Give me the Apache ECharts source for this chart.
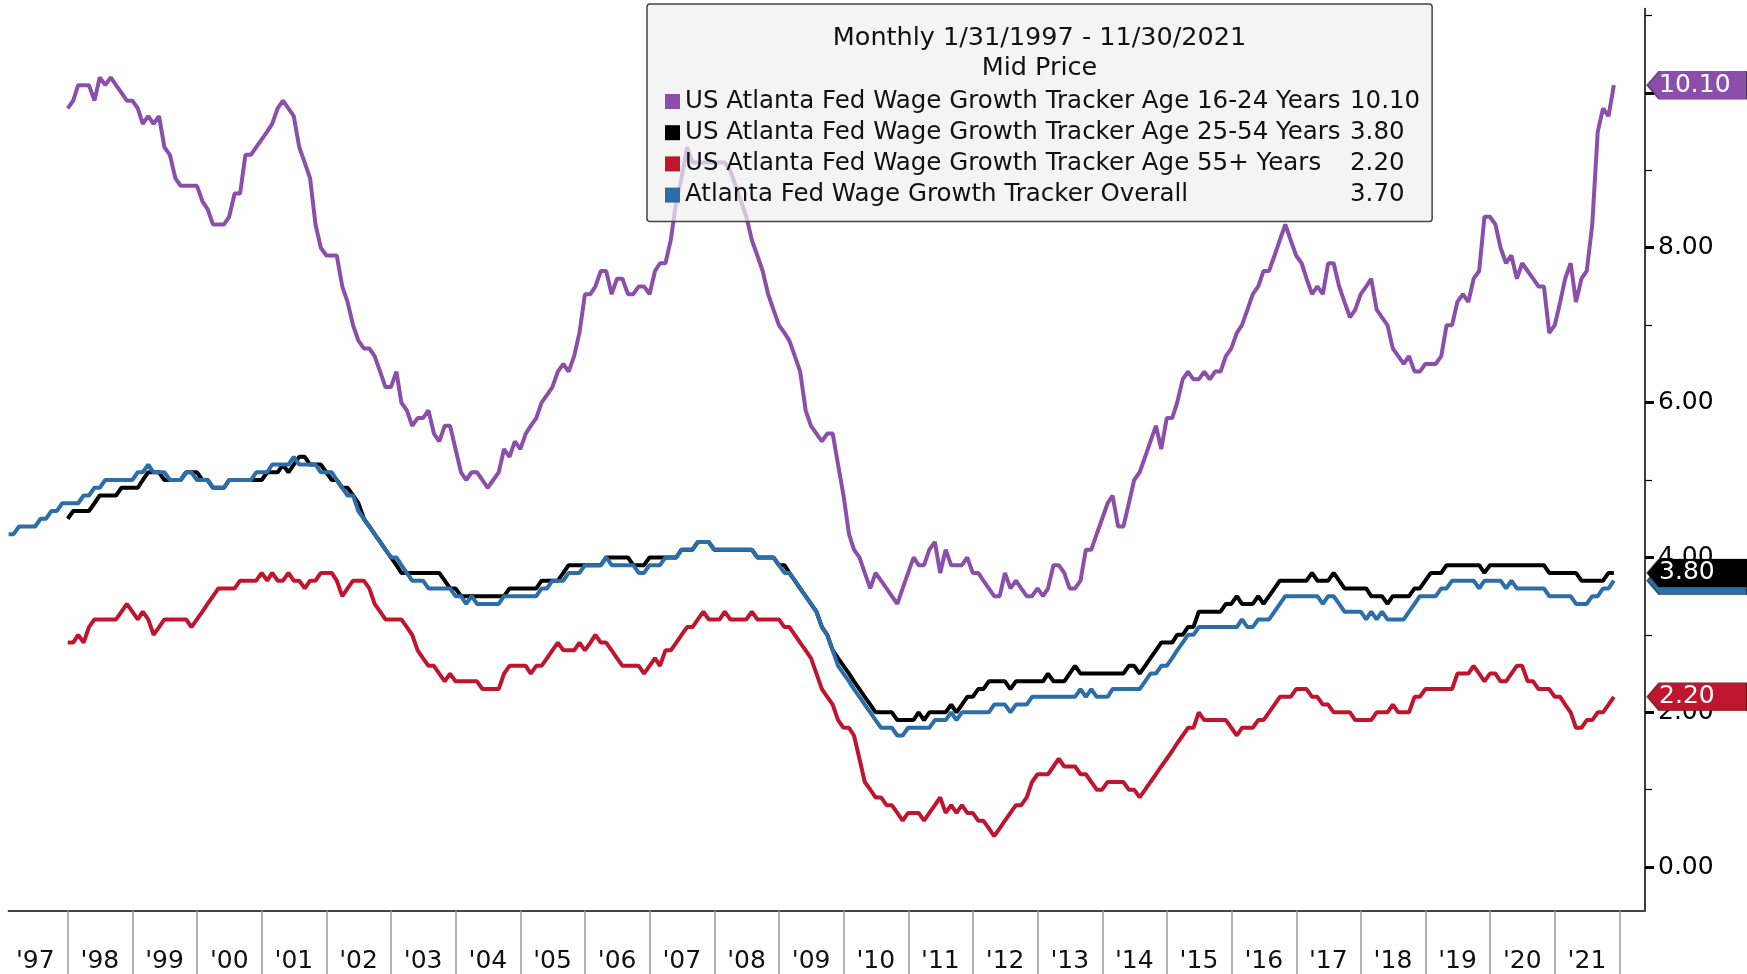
<!DOCTYPE html>
<html>
<head>
<meta charset="utf-8">
<title>Atlanta Fed Wage Growth Tracker by age</title>
<script src="https://cdn.jsdelivr.net/npm/echarts@6/dist/echarts.min.js"></script>
<style>
  html, body { margin: 0; padding: 0; background: #fff; }
  #chart { width: 1747px; height: 974px; }
</style>
</head>
<body>
<div id="chart"></div>
<script>
// monthly values, % y/y (3m moving avg)
// overall tracker starts Jan 1997, the age groups start Dec 1997
const overall = [
  4.3,4.3,4.4,4.4,4.4,4.4,4.5,4.5,4.6,4.6,4.7,4.7, // 1997
  4.7,4.7,4.8,4.8,4.9,4.9,5.0,5.0,5.0,5.0,5.0,5.0, // 1998
  5.1,5.1,5.2,5.1,5.1,5.1,5.0,5.0,5.0,5.1,5.1,5.0, // 1999
  5.0,5.0,4.9,4.9,4.9,5.0,5.0,5.0,5.0,5.0,5.1,5.1, // 2000
  5.1,5.2,5.2,5.2,5.2,5.3,5.2,5.2,5.2,5.2,5.1,5.1, // 2001
  5.1,5.0,4.9,4.8,4.8,4.6,4.5,4.4,4.3,4.2,4.1,4.0, // 2002
  4.0,3.9,3.8,3.7,3.7,3.7,3.6,3.6,3.6,3.6,3.6,3.5, // 2003
  3.5,3.4,3.5,3.4,3.4,3.4,3.4,3.4,3.5,3.5,3.5,3.5, // 2004
  3.5,3.5,3.5,3.6,3.6,3.7,3.7,3.7,3.8,3.8,3.8,3.9, // 2005
  3.9,3.9,3.9,4.0,3.9,3.9,3.9,3.9,3.9,3.8,3.8,3.9, // 2006
  3.9,3.9,4.0,4.0,4.0,4.1,4.1,4.1,4.2,4.2,4.2,4.1, // 2007
  4.1,4.1,4.1,4.1,4.1,4.1,4.1,4.0,4.0,4.0,4.0,3.9, // 2008
  3.8,3.8,3.7,3.6,3.5,3.4,3.3,3.1,3.0,2.8,2.6,2.5, // 2009
  2.4,2.3,2.2,2.1,2.0,1.9,1.8,1.8,1.8,1.7,1.7,1.8, // 2010
  1.8,1.8,1.8,1.8,1.9,1.9,1.9,2.0,1.9,2.0,2.0,2.0, // 2011
  2.0,2.0,2.0,2.1,2.1,2.1,2.0,2.1,2.1,2.1,2.2,2.2, // 2012
  2.2,2.2,2.2,2.2,2.2,2.2,2.2,2.3,2.2,2.3,2.2,2.2, // 2013
  2.2,2.3,2.3,2.3,2.3,2.3,2.3,2.4,2.5,2.5,2.6,2.6, // 2014
  2.7,2.8,2.9,3.0,3.0,3.1,3.1,3.1,3.1,3.1,3.1,3.1, // 2015
  3.1,3.2,3.1,3.1,3.2,3.2,3.2,3.3,3.4,3.5,3.5,3.5, // 2016
  3.5,3.5,3.5,3.5,3.4,3.5,3.5,3.4,3.3,3.3,3.3,3.3, // 2017
  3.2,3.3,3.2,3.3,3.2,3.2,3.2,3.2,3.3,3.4,3.5,3.5, // 2018
  3.5,3.5,3.6,3.6,3.7,3.7,3.7,3.7,3.7,3.6,3.7,3.7, // 2019
  3.7,3.7,3.6,3.7,3.6,3.6,3.6,3.6,3.6,3.6,3.5,3.5, // 2020
  3.5,3.5,3.5,3.4,3.4,3.4,3.5,3.5,3.6,3.6,3.7      // 2021
];

const age1624 = [
  9.8,                                                   // Dec 1997
  9.9,10.1,10.1,10.1,9.9,10.2,10.1,10.2,10.1,10.0,9.9,9.9, // 1998
  9.8,9.6,9.7,9.6,9.7,9.3,9.2,8.9,8.8,8.8,8.8,8.8,       // 1999
  8.6,8.5,8.3,8.3,8.3,8.4,8.7,8.7,9.2,9.2,9.3,9.4,       // 2000
  9.5,9.6,9.8,9.9,9.8,9.7,9.3,9.1,8.9,8.3,8.0,7.9,       // 2001
  7.9,7.9,7.5,7.3,7.0,6.8,6.7,6.7,6.6,6.4,6.2,6.2,       // 2002
  6.4,6.0,5.9,5.7,5.8,5.8,5.9,5.6,5.5,5.7,5.7,5.4,       // 2003
  5.1,5.0,5.1,5.1,5.0,4.9,5.0,5.1,5.4,5.3,5.5,5.4,       // 2004
  5.6,5.7,5.8,6.0,6.1,6.2,6.4,6.5,6.4,6.6,6.9,7.4,       // 2005
  7.4,7.5,7.7,7.7,7.4,7.6,7.6,7.4,7.4,7.5,7.5,7.4,       // 2006
  7.7,7.8,7.8,8.1,8.6,8.9,9.3,9.1,9.1,9.1,9.1,9.1,       // 2007
  9.1,9.1,9.0,8.8,8.6,8.4,8.1,7.9,7.7,7.4,7.2,7.0,       // 2008
  6.9,6.8,6.6,6.4,5.9,5.7,5.6,5.5,5.6,5.6,5.2,4.8,       // 2009
  4.3,4.1,4.0,3.8,3.6,3.8,3.7,3.6,3.5,3.4,3.6,3.8,       // 2010
  4.0,3.9,3.9,4.1,4.2,3.8,4.1,3.9,3.9,3.9,4.0,3.8,       // 2011
  3.8,3.7,3.6,3.5,3.5,3.8,3.6,3.7,3.6,3.5,3.5,3.6,       // 2012
  3.5,3.6,3.9,3.9,3.8,3.6,3.6,3.7,4.1,4.1,4.3,4.5,       // 2013
  4.7,4.8,4.4,4.4,4.7,5.0,5.1,5.3,5.5,5.7,5.4,5.8,       // 2014
  5.8,6.0,6.3,6.4,6.3,6.3,6.4,6.3,6.4,6.4,6.6,6.7,       // 2015
  6.9,7.0,7.2,7.4,7.5,7.7,7.7,7.9,8.1,8.3,8.1,7.9,       // 2016
  7.8,7.6,7.4,7.5,7.4,7.8,7.8,7.5,7.3,7.1,7.2,7.4,       // 2017
  7.5,7.6,7.2,7.1,7.0,6.7,6.6,6.5,6.6,6.4,6.4,6.5,       // 2018
  6.5,6.5,6.6,7.0,7.0,7.3,7.4,7.3,7.6,7.7,8.4,8.4,       // 2019
  8.3,8.0,7.8,7.9,7.6,7.8,7.7,7.6,7.5,7.5,6.9,7.0,       // 2020
  7.3,7.6,7.8,7.3,7.6,7.7,8.3,9.5,9.8,9.7,10.1           // 2021
];

const age2554 = [
  4.5,                                             // Dec 1997
  4.6,4.6,4.6,4.6,4.7,4.8,4.8,4.8,4.8,4.9,4.9,4.9, // 1998
  4.9,5.0,5.1,5.1,5.1,5.0,5.0,5.0,5.0,5.1,5.1,5.1, // 1999
  5.0,5.0,4.9,4.9,4.9,5.0,5.0,5.0,5.0,5.0,5.0,5.0, // 2000
  5.1,5.1,5.1,5.2,5.1,5.2,5.3,5.3,5.2,5.2,5.2,5.1, // 2001
  5.0,5.0,4.9,4.9,4.8,4.7,4.5,4.4,4.3,4.2,4.1,4.0, // 2002
  3.9,3.8,3.8,3.8,3.8,3.8,3.8,3.8,3.8,3.7,3.6,3.6, // 2003
  3.5,3.5,3.5,3.5,3.5,3.5,3.5,3.5,3.5,3.6,3.6,3.6, // 2004
  3.6,3.6,3.6,3.7,3.7,3.7,3.7,3.8,3.9,3.9,3.9,3.9, // 2005
  3.9,3.9,3.9,4.0,4.0,4.0,4.0,4.0,3.9,3.9,3.9,4.0, // 2006
  4.0,4.0,4.0,4.0,4.0,4.1,4.1,4.1,4.2,4.2,4.2,4.1, // 2007
  4.1,4.1,4.1,4.1,4.1,4.1,4.1,4.0,4.0,4.0,4.0,3.9, // 2008
  3.9,3.8,3.7,3.6,3.5,3.4,3.3,3.1,3.0,2.8,2.7,2.6, // 2009
  2.5,2.4,2.3,2.2,2.1,2.0,2.0,2.0,2.0,1.9,1.9,1.9, // 2010
  1.9,2.0,1.9,2.0,2.0,2.0,2.0,2.1,2.0,2.1,2.2,2.2, // 2011
  2.3,2.3,2.4,2.4,2.4,2.4,2.3,2.4,2.4,2.4,2.4,2.4, // 2012
  2.4,2.5,2.4,2.4,2.4,2.5,2.6,2.5,2.5,2.5,2.5,2.5, // 2013
  2.5,2.5,2.5,2.5,2.6,2.6,2.5,2.6,2.7,2.8,2.9,2.9, // 2014
  2.9,3.0,3.0,3.1,3.1,3.3,3.3,3.3,3.3,3.3,3.4,3.4, // 2015
  3.5,3.4,3.4,3.4,3.5,3.4,3.5,3.6,3.7,3.7,3.7,3.7, // 2016
  3.7,3.7,3.8,3.7,3.7,3.7,3.8,3.7,3.6,3.6,3.6,3.6, // 2017
  3.6,3.5,3.5,3.5,3.4,3.5,3.5,3.5,3.5,3.6,3.6,3.7, // 2018
  3.8,3.8,3.8,3.9,3.9,3.9,3.9,3.9,3.9,3.9,3.8,3.9, // 2019
  3.9,3.9,3.9,3.9,3.9,3.9,3.9,3.9,3.9,3.9,3.8,3.8, // 2020
  3.8,3.8,3.8,3.8,3.7,3.7,3.7,3.7,3.7,3.8,3.8      // 2021
];

const age55 = [
  2.9,                                             // Dec 1997
  2.9,3.0,2.9,3.1,3.2,3.2,3.2,3.2,3.2,3.3,3.4,3.3, // 1998
  3.2,3.3,3.2,3.0,3.1,3.2,3.2,3.2,3.2,3.2,3.1,3.2, // 1999
  3.3,3.4,3.5,3.6,3.6,3.6,3.6,3.7,3.7,3.7,3.7,3.8, // 2000
  3.7,3.8,3.7,3.7,3.8,3.7,3.7,3.6,3.7,3.7,3.8,3.8, // 2001
  3.8,3.7,3.5,3.6,3.7,3.7,3.7,3.6,3.4,3.3,3.2,3.2, // 2002
  3.2,3.2,3.1,3.0,2.8,2.7,2.6,2.6,2.5,2.4,2.5,2.4, // 2003
  2.4,2.4,2.4,2.4,2.3,2.3,2.3,2.3,2.5,2.6,2.6,2.6, // 2004
  2.6,2.5,2.6,2.6,2.7,2.8,2.9,2.8,2.8,2.8,2.9,2.8, // 2005
  2.9,3.0,2.9,2.9,2.8,2.7,2.6,2.6,2.6,2.6,2.5,2.6, // 2006
  2.7,2.6,2.8,2.8,2.9,3.0,3.1,3.1,3.2,3.3,3.2,3.2, // 2007
  3.2,3.3,3.2,3.2,3.2,3.2,3.3,3.2,3.2,3.2,3.2,3.2, // 2008
  3.1,3.1,3.0,2.9,2.8,2.7,2.5,2.3,2.2,2.1,1.9,1.8, // 2009
  1.8,1.7,1.4,1.1,1.0,0.9,0.9,0.8,0.8,0.7,0.6,0.7, // 2010
  0.7,0.7,0.6,0.7,0.8,0.9,0.7,0.8,0.7,0.8,0.7,0.7, // 2011
  0.6,0.6,0.5,0.4,0.5,0.6,0.7,0.8,0.8,0.9,1.1,1.2, // 2012
  1.2,1.2,1.3,1.4,1.3,1.3,1.3,1.2,1.2,1.1,1.0,1.0, // 2013
  1.1,1.1,1.1,1.1,1.0,1.0,0.9,1.0,1.1,1.2,1.3,1.4, // 2014
  1.5,1.6,1.7,1.8,1.8,2.0,1.9,1.9,1.9,1.9,1.9,1.8, // 2015
  1.7,1.8,1.8,1.8,1.9,1.9,2.0,2.1,2.2,2.2,2.2,2.3, // 2016
  2.3,2.3,2.2,2.2,2.1,2.1,2.0,2.0,2.0,2.0,1.9,1.9, // 2017
  1.9,1.9,2.0,2.0,2.0,2.1,2.0,2.0,2.0,2.2,2.2,2.3, // 2018
  2.3,2.3,2.3,2.3,2.3,2.5,2.5,2.5,2.6,2.5,2.4,2.5, // 2019
  2.5,2.4,2.4,2.5,2.6,2.6,2.4,2.4,2.3,2.3,2.3,2.2, // 2020
  2.2,2.1,2.0,1.8,1.8,1.9,1.9,2.0,2.0,2.1,2.2      // 2021
];

const names = [
  "US Atlanta Fed Wage Growth Tracker Age 16-24 Years",
  "US Atlanta Fed Wage Growth Tracker Age 25-54 Years",
  "US Atlanta Fed Wage Growth Tracker Age 55+ Years",
  "Atlanta Fed Wage Growth Tracker Overall"
];
const colors = ["#8b4fab", "#000000", "#c0152f", "#2c6ea8"];
const yearLabels = ["'97","'98","'99","'00","'01","'02","'03","'04","'05","'06","'07","'08","'09",
  "'10","'11","'12","'13","'14","'15","'16","'17","'18","'19","'20","'21"];
const yTicks = [0, 2, 4, 6, 8, 10];
const yMinorTicks = [1, 3, 5, 7, 9, 11];

const FONT = "DejaVu Sans";
const X_MIN = Date.UTC(1997, 0, 31);
const X_MAX = Date.UTC(2022, 4, 25);

// month-end dates starting at (year, month0)
function withDates(values, year, month0) {
  return values.map((v, i) => [Date.UTC(year, month0 + i + 1, 0), v]);
}

const yearStarts = [];
const yearMids = [];
yearLabels.forEach((l, i) => {
  yearMids.push(Date.UTC(1997 + i, 6, 1));
  yearStarts.push(Date.UTC(1998 + i, 0, 1));
});

const seriesValues = [age1624, age2554, age55, overall];
const seriesStart = [[1997, 11], [1997, 11], [1997, 11], [1997, 0]];
const lastValues = seriesValues.map(v => v[v.length - 1]);

function tag(value, color, z) {
  return {
    silent: true,
    z: z,
    symbol: "path://M0,14 L12,0 L100,0 L100,28 L12,28 Z",
    symbolSize: [100, 28],
    symbolKeepAspect: false,
    symbolOffset: [52, 0],
    itemStyle: { color: color, borderColor: "rgba(0,0,0,0.5)", borderWidth: 1 },
    label: {
      show: true,
      position: "insideLeft",
      distance: 13,
      color: "#fff",
      fontFamily: FONT,
      fontSize: 25,
      formatter: p => p.value.toFixed(2)
    },
    data: [{ coord: [X_MAX, value], value: value }]
  };
}

const chart = echarts.init(document.getElementById("chart"));

chart.setOption({
  animation: false,
  grid: { left: 8.6, right: 102, top: 8.5, bottom: 63.5 },
  xAxis: {
    // timestamps on a plain value axis so ticks/labels can sit on custom dates
    type: "value",
    min: X_MIN,
    max: X_MAX,
    axisLine: { show: true, onZero: false, lineStyle: { color: "#444", width: 2 } },
    axisTick: { show: true, customValues: yearStarts, length: 66, lineStyle: { color: "#999", width: 1.5 } },
    axisLabel: {
      customValues: yearMids,
      formatter: v => yearLabels[new Date(v).getUTCFullYear() - 1997],
      fontFamily: FONT,
      fontSize: 25,
      color: "#111",
      margin: 38
    },
    splitLine: { show: false }
  },
  yAxis: [
    {
      type: "value",
      position: "right",
      min: -0.56,
      max: 11.09,
      axisLine: { show: true, lineStyle: { color: "#000", width: 1.5 } },
      axisTick: { show: true, customValues: yTicks, length: 9, lineStyle: { color: "#000", width: 3 } },
      axisLabel: {
        customValues: yTicks,
        formatter: v => v.toFixed(2),
        fontFamily: FONT,
        fontSize: 25,
        color: "#000",
        margin: 13
      },
      splitLine: { show: false }
    },
    {
      // minor ticks at odd values, drawn on the right-hand axis line
      type: "value",
      position: "left",
      offset: -1636.4,
      min: -0.56,
      max: 11.09,
      axisLine: { show: false },
      axisTick: { show: true, inside: true, customValues: yMinorTicks, length: 7, lineStyle: { color: "#000", width: 1.2 } },
      axisLabel: { show: false },
      splitLine: { show: false }
    }
  ],
  legend: {
    data: names,
    orient: "vertical",
    left: 647,
    top: 4,
    padding: [85, 12, 14, 18],
    icon: "rect",
    itemWidth: 15,
    itemHeight: 15,
    itemGap: 6.2,
    selectedMode: false,
    backgroundColor: "rgba(240,240,240,0.72)",
    borderColor: "#444",
    borderWidth: 1.5,
    borderRadius: 3,
    formatter: name => {
      const v = lastValues[names.indexOf(name)];
      return "{n|" + name + "}{v|" + v.toFixed(2) + "}";
    },
    textStyle: {
      fontFamily: FONT,
      fontSize: 24.5,
      lineHeight: 25,
      color: "#111",
      rich: {
        n: { width: 665, fontFamily: FONT, fontSize: 24.5, lineHeight: 25, color: "#111" },
        v: { width: 67, fontFamily: FONT, fontSize: 24.5, lineHeight: 25, color: "#111" }
      }
    }
  },
  graphic: [
    {
      type: "text", x: 1039.5, y: 38, z: 100,
      style: { text: "Monthly 1/31/1997 - 11/30/2021", font: "25.5px '" + FONT + "'", fill: "#111", align: "center", verticalAlign: "middle" }
    },
    {
      type: "text", x: 1039.5, y: 68, z: 100,
      style: { text: "Mid Price", font: "25.5px '" + FONT + "'", fill: "#111", align: "center", verticalAlign: "middle" }
    }
  ],
  series: names.map((name, k) => ({
    name: name,
    type: "line",
    data: withDates(seriesValues[k], seriesStart[k][0], seriesStart[k][1]),
    showSymbol: false,
    symbol: "none",
    color: colors[k],
    lineStyle: { color: colors[k], width: 4 },
    emphasis: { disabled: true },
    markPoint: tag(lastValues[k], colors[k], k === 3 ? 5 : 6)
  }))
});

window.addEventListener("resize", () => {
  chart.resize();
});
</script>
</body>
</html>
